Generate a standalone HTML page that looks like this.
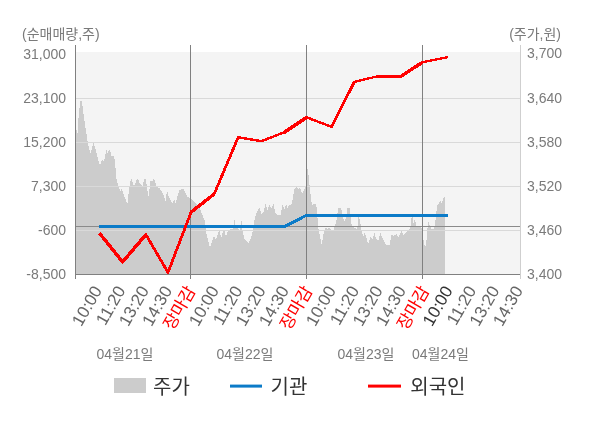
<!DOCTYPE html>
<html lang="ko">
<head>
<meta charset="utf-8">
<title>순매매량 / 주가</title>
<style>
html,body{margin:0;padding:0;background:#fff;}
body{width:600px;height:428px;overflow:hidden;}
svg{display:block;}
text{font-family:"Liberation Sans","Noto Sans CJK KR","NanumGothic",sans-serif;}
.ax{font-size:14px;fill:#7a7a7a;}
.xl{font-size:17px;fill:#666;}
.xr{font-size:17px;fill:#ff0000;}
.xc{font-size:17px;fill:#333;}
.dt{font-size:14px;fill:#7a7a7a;}
.lg{font-size:20px;fill:#333;}
</style>
</head>
<body>
<svg width="600" height="428" viewBox="0 0 600 428">
<rect x="0" y="0" width="600" height="428" fill="#ffffff"/>
<rect x="76" y="52" width="444" height="222" fill="#f4f4f4"/>
<polygon points="76,274 76.0,128.0 78.0,134.0 78.6,115.0 80.4,101.0 82.0,101.0 83.0,111.0 84.5,121.0 86.0,131.0 87.7,142.0 89.0,149.0 91.0,154.0 92.0,147.0 93.5,143.0 94.7,146.0 96.0,151.0 98.0,159.0 100.0,166.0 101.7,160.0 104.0,161.0 105.8,153.0 106.8,149.0 107.8,154.0 109.0,149.0 110.6,152.0 111.6,156.0 114.0,156.0 115.2,164.0 116.6,180.0 118.6,187.0 120.2,191.0 121.8,189.0 123.8,195.0 125.9,200.0 127.3,205.0 128.9,190.0 130.3,181.0 131.7,178.5 133.3,185.0 134.9,185.0 136.7,179.0 138.3,179.0 139.9,184.0 141.3,184.0 142.4,187.0 144.0,180.0 145.4,178.5 146.8,186.0 148.4,197.0 149.4,190.0 150.8,179.0 152.0,183.0 153.4,178.5 155.0,180.0 156.4,187.0 159.4,188.0 161.4,191.0 163.5,195.0 165.5,201.0 167.0,190.0 168.5,196.0 170.5,200.0 172.5,203.0 174.5,200.0 175.5,203.0 177.0,198.0 179.5,190.0 181.5,189.0 183.5,189.0 185.6,193.0 187.6,197.0 190.6,198.0 193.0,201.0 196.0,204.0 200.0,208.0 202.0,214.0 204.5,220.0 206.0,232.0 208.0,240.0 210.0,248.0 212.0,242.0 214.0,236.0 216.0,240.0 218.0,233.0 219.8,230.0 221.0,239.0 223.0,231.0 224.6,231.0 226.0,237.0 228.0,231.0 230.0,229.0 233.0,229.0 234.7,219.0 236.0,228.0 239.0,229.0 240.0,232.0 241.3,219.0 242.3,230.0 244.3,239.0 246.3,241.0 248.3,243.0 250.3,240.0 252.4,233.0 254.0,223.0 255.4,216.0 257.4,211.0 259.4,208.0 261.4,214.0 263.4,212.0 265.4,204.0 267.4,210.0 269.4,205.0 271.4,208.0 273.5,204.0 275.5,213.0 277.5,215.0 280.5,215.0 282.5,205.0 284.5,209.0 286.0,204.0 287.5,208.0 289.5,205.0 291.5,204.0 293.0,198.0 294.2,189.0 296.0,187.0 298.0,189.0 300.0,187.0 302.0,194.0 304.0,190.0 305.7,186.0 307.7,167.0 309.0,180.0 310.5,194.0 312.0,206.0 313.7,204.0 316.0,204.6 317.0,210.0 318.0,226.0 320.0,237.0 321.7,245.0 323.8,232.0 326.0,227.0 327.8,229.0 329.0,227.0 331.0,230.0 333.0,232.0 335.0,226.0 336.6,220.0 338.2,208.0 341.2,208.0 342.6,217.0 344.6,221.0 346.6,216.0 347.3,208.0 350.0,208.0 350.7,220.0 352.3,227.0 355.3,228.0 357.3,229.0 358.3,217.0 360.0,220.0 361.3,229.0 363.3,237.0 364.7,232.0 366.4,238.0 368.0,244.0 370.4,237.0 372.4,239.0 374.4,233.0 376.0,239.0 378.4,240.0 380.4,233.0 382.4,238.0 384.4,242.0 386.4,245.0 389.5,245.0 391.5,235.0 393.5,236.0 396.5,234.0 398.5,237.0 401.5,231.0 403.5,235.0 406.0,232.0 409.0,230.0 410.4,228.0 411.0,218.0 412.5,217.0 413.7,224.0 415.0,218.0 416.0,226.0 420.0,227.0 422.0,229.0 423.0,238.0 424.5,245.0 425.7,246.0 427.0,236.0 428.0,221.0 429.7,225.0 431.7,229.0 434.0,229.0 435.0,224.0 436.6,210.0 437.8,203.0 439.0,205.0 440.0,200.0 441.6,203.0 443.2,199.0 444.4,197.0 445.0,197.0 445,274" fill="#cccccc" shape-rendering="crispEdges"/>
<rect x="76" y="98" width="444" height="1" fill="#d9d9d9"/>
<rect x="76" y="142" width="444" height="1" fill="#d9d9d9"/>
<rect x="76" y="186" width="444" height="1" fill="#d9d9d9"/>
<rect x="76" y="230" width="444" height="1" fill="#d9d9d9"/>
<rect x="76" y="226" width="444" height="1" fill="#8a8a8a"/>
<rect x="190" y="45" width="1" height="234" fill="#808080"/>
<rect x="306" y="45" width="1" height="234" fill="#808080"/>
<rect x="422" y="45" width="1" height="234" fill="#808080"/>
<rect x="75" y="45" width="1" height="234" fill="#808080"/>
<rect x="75" y="274" width="445" height="1" fill="#808080"/>
<rect x="520" y="45" width="1" height="234" fill="#cfcfcf"/>
<polyline points="99.0,226.5 284.5,226.5 306.5,215.3 447.8,215.3" fill="none" stroke="#0b7bc8" stroke-width="3" shape-rendering="crispEdges"/>
<g stroke="#ff0000" fill="#ff0000" shape-rendering="crispEdges">
<line x1="99.3" y1="233.0" x2="122.6" y2="261.9" stroke-width="3.4"/>
<line x1="122.6" y1="261.9" x2="145.9" y2="234.6" stroke-width="3.4"/>
<line x1="145.9" y1="234.6" x2="168" y2="272.4" stroke-width="2.8"/>
<line x1="168" y1="272.4" x2="191.1" y2="212.1" stroke-width="2.8"/>
<line x1="191.1" y1="212.1" x2="214.2" y2="194" stroke-width="3.4"/>
<line x1="214.2" y1="194" x2="238.2" y2="137.2" stroke-width="2.8"/>
<line x1="238.2" y1="137.2" x2="261.4" y2="141.2" stroke-width="2.4"/>
<line x1="261.4" y1="141.2" x2="284.5" y2="132.2" stroke-width="2.5"/>
<line x1="284.5" y1="132.2" x2="306.7" y2="117.4" stroke-width="3.4"/>
<line x1="306.7" y1="117.4" x2="331.5" y2="126.8" stroke-width="2.5"/>
<line x1="331.5" y1="126.8" x2="354.4" y2="81.8" stroke-width="2.8"/>
<line x1="354.4" y1="81.8" x2="378" y2="76.2" stroke-width="2.4"/>
<line x1="378" y1="76.2" x2="401.1" y2="76.2" stroke-width="3"/>
<line x1="401.1" y1="76.2" x2="422.6" y2="62.2" stroke-width="3.4"/>
<line x1="422.6" y1="62.2" x2="447.9" y2="57.1" stroke-width="2.4"/>
<circle cx="122.6" cy="261.9" r="1.70" stroke="none"/>
<circle cx="145.9" cy="234.6" r="1.40" stroke="none"/>
<circle cx="168" cy="272.4" r="1.40" stroke="none"/>
<circle cx="191.1" cy="212.1" r="1.40" stroke="none"/>
<circle cx="214.2" cy="194" r="1.40" stroke="none"/>
<circle cx="238.2" cy="137.2" r="1.20" stroke="none"/>
<circle cx="261.4" cy="141.2" r="1.20" stroke="none"/>
<circle cx="284.5" cy="132.2" r="1.25" stroke="none"/>
<circle cx="306.7" cy="117.4" r="1.25" stroke="none"/>
<circle cx="331.5" cy="126.8" r="1.25" stroke="none"/>
<circle cx="354.4" cy="81.8" r="1.20" stroke="none"/>
<circle cx="378" cy="76.2" r="1.20" stroke="none"/>
<circle cx="401.1" cy="76.2" r="1.50" stroke="none"/>
<circle cx="422.6" cy="62.2" r="1.20" stroke="none"/>
</g>
<text class="ax" x="22" y="39">(순매매량,주)</text>
<text class="ax" x="561" y="39" text-anchor="end">(주가,원)</text>
<text class="ax" x="66" y="59" text-anchor="end">31,000</text>
<text class="ax" x="66" y="103" text-anchor="end">23,100</text>
<text class="ax" x="66" y="147" text-anchor="end">15,200</text>
<text class="ax" x="66" y="191" text-anchor="end">7,300</text>
<text class="ax" x="66" y="235" text-anchor="end">-600</text>
<text class="ax" x="66" y="279" text-anchor="end">-8,500</text>
<text class="ax" x="527" y="57.5">3,700</text>
<text class="ax" x="527" y="102.5">3,640</text>
<text class="ax" x="527" y="146.5">3,580</text>
<text class="ax" x="527" y="190.5">3,520</text>
<text class="ax" x="527" y="234.5">3,460</text>
<text class="ax" x="527" y="278.5">3,400</text>
<text class="xl" text-anchor="end" transform="translate(102.6,290.4) rotate(-60)">10:00</text>
<text class="xl" text-anchor="end" transform="translate(126.0,290.4) rotate(-60)">11:20</text>
<text class="xl" text-anchor="end" transform="translate(149.4,290.4) rotate(-60)">13:20</text>
<text class="xl" text-anchor="end" transform="translate(172.7,290.4) rotate(-60)">14:30</text>
<text class="xr" text-anchor="end" transform="translate(196.1,290.4) rotate(-60)">장마감</text>
<text class="xl" text-anchor="end" transform="translate(219.5,290.4) rotate(-60)">10:00</text>
<text class="xl" text-anchor="end" transform="translate(242.9,290.4) rotate(-60)">11:20</text>
<text class="xl" text-anchor="end" transform="translate(266.3,290.4) rotate(-60)">13:20</text>
<text class="xl" text-anchor="end" transform="translate(289.6,290.4) rotate(-60)">14:30</text>
<text class="xr" text-anchor="end" transform="translate(313.0,290.4) rotate(-60)">장마감</text>
<text class="xl" text-anchor="end" transform="translate(336.4,290.4) rotate(-60)">10:00</text>
<text class="xl" text-anchor="end" transform="translate(359.8,290.4) rotate(-60)">11:20</text>
<text class="xl" text-anchor="end" transform="translate(383.2,290.4) rotate(-60)">13:20</text>
<text class="xl" text-anchor="end" transform="translate(406.5,290.4) rotate(-60)">14:30</text>
<text class="xr" text-anchor="end" transform="translate(429.9,290.4) rotate(-60)">장마감</text>
<text class="xc" text-anchor="end" transform="translate(453.3,290.4) rotate(-60)">10:00</text>
<text class="xl" text-anchor="end" transform="translate(476.7,290.4) rotate(-60)">11:20</text>
<text class="xl" text-anchor="end" transform="translate(500.1,290.4) rotate(-60)">13:20</text>
<text class="xl" text-anchor="end" transform="translate(523.4,290.4) rotate(-60)">14:30</text>
<text class="dt" x="125" y="359" text-anchor="middle">04월21일</text>
<text class="dt" x="245" y="359" text-anchor="middle">04월22일</text>
<text class="dt" x="366" y="359" text-anchor="middle">04월23일</text>
<text class="dt" x="440.5" y="359" text-anchor="middle">04월24일</text>
<rect x="114" y="378" width="32" height="15" fill="#cccccc"/>
<text class="lg" x="153" y="394">주가</text>
<rect x="230" y="384.6" width="32" height="3" fill="#0b7bc8"/>
<text class="lg" x="270.5" y="394">기관</text>
<rect x="368" y="384.6" width="33" height="3" fill="#ff0000"/>
<text class="lg" x="410.3" y="394">외국인</text>
</svg>
</body>
</html>
